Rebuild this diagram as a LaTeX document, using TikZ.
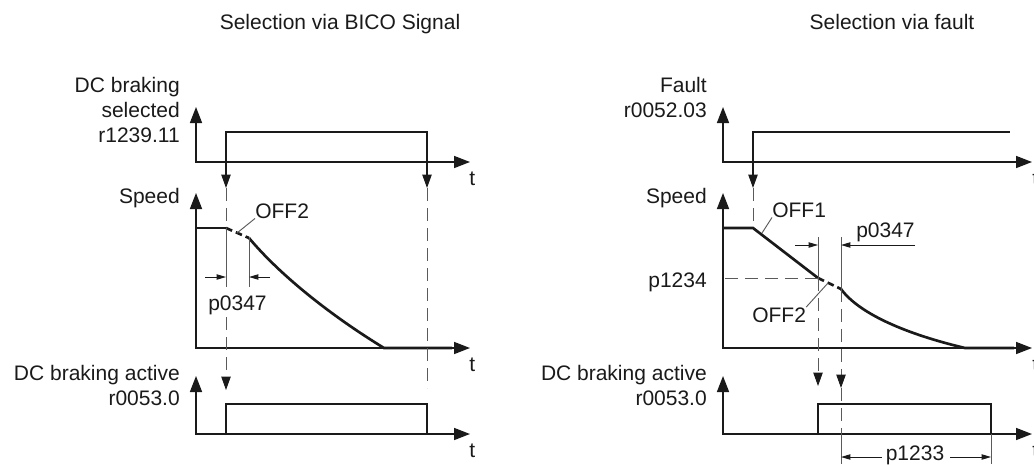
\documentclass[tikz,border=0pt]{standalone}
\usepackage{fontspec}
\setmainfont{Liberation Sans}
\usetikzlibrary{arrows.meta}
\definecolor{trait}{HTML}{1A1A1A}
\definecolor{gristrait}{HTML}{5A5A5A}

\begin{document}
\begin{tikzpicture}[
    x=0.75pt, y=-0.75pt,
    font=\fontsize{15.75}{18.75}\selectfont, text=trait,
    every node/.style={inner sep=0pt},
    axe/.style={draw=trait, line width=1.2pt,
      {Triangle[length=12pt,width=9pt]}-{Triangle[length=12pt,width=9pt]}},
    sig/.style={draw=trait, line width=2pt},
    sigtiret/.style={sig, dash pattern=on 5pt off 3pt},
    fin/.style={draw=gristrait, line width=0.7pt},
    tiret/.style={fin, dash pattern=on 10pt off 5pt},
    evt/.style={draw=trait, line width=0.8pt,
      -{Triangle[length=10pt,width=7pt,color=trait]}},
    cote/.style={draw=trait, line width=0.7pt,
      -{Triangle[length=7pt,width=4pt]}}
  ]
    \useasboundingbox (0,0) rectangle (1034,464);

    % selection via BICO
    \node[anchor=base] (titreg) at (340,29) {Selection via BICO Signal};
    \node[anchor=east, align=right] (selg) at (180,110) {DC braking\\selected\\r1239.11};
    \node[anchor=base east] (vitg) at (180,203) {Speed};
    \node[anchor=east, align=right] (actg) at (180,385) {DC braking active\\r0053.0};
    \draw[axe] (196,107) -- (196,162) -- (470,162);
    \draw[axe] (196,193) -- (196,348) -- (470,348);
    \draw[axe] (196,376) -- (196,434) -- (470,434);
    \node[anchor=base west] (tg1) at (469,185) {t};
    \node[anchor=base west] (tg2) at (469,371) {t};
    \node[anchor=base west] (tg3) at (469,457) {t};
    \draw[sig] (196,162) -- (226,162) -- (226,132) -- (427,132) -- (427,162) -- (452,162);
    \draw[sig] (196,228) -- (226,228);
    \draw[sigtiret] (226,228) -- (249,238);
    \draw[sig] (249,238) .. controls (280,275) and (330,315) .. (384,348) -- (452,348);
    \draw[sig] (196,434) -- (226,434) -- (226,404) -- (427,404) -- (427,434) -- (452,434);
    \draw[evt] (226,162) -- (226,188);
    \draw[evt] (427,162) -- (427,188);
    \draw[tiret] (226,188) -- (226,228);
    \draw[tiret] (427,188) -- (427,388);
    \draw[fin] (226,228) -- (226,287);
    \draw[fin] (249,238) -- (249,287);
    \draw[cote] (205,277) -- (226,277);
    \draw[cote] (270,277) -- (249,277);
    \node[anchor=base west] (p0347g) at (208,310) {p0347};
    \draw[evt, tiret] (226,317) -- (226,390);
    \node[anchor=base west] (off2g) at (255,218) {OFF2};
    \draw[fin] (off2g.south west) -- (237,233);

    % selection via fault
    \node[anchor=base] (titred) at (892,29) {Selection via fault};
    \node[anchor=east, align=right] (defd) at (707,97) {Fault\\r0052.03};
    \node[anchor=base east] (vitd) at (707,203) {Speed};
    \node[anchor=base east] (p1234) at (707,287) {p1234};
    \node[anchor=east, align=right] (actd) at (707,385) {DC braking active\\r0053.0};
    \draw[axe] (723,107) -- (723,162) -- (1032,162);
    \draw[axe] (723,193) -- (723,348) -- (1032,348);
    \draw[axe] (723,376) -- (723,434) -- (1032,434);
    \node[anchor=base west] (td1) at (1032,185) {t};
    \node[anchor=base west] (td2) at (1032,371) {t};
    \node[anchor=base west] (td3) at (1032,457) {t};
    \draw[sig] (723,162) -- (753,162) -- (753,132) -- (1010,132);
    \draw[sig] (723,228) -- (753,228) -- (818,278);
    \draw[sigtiret] (818,278) -- (841,289);
    \draw[sig] (841,289) .. controls (860,315) and (910,335) .. (965,348) -- (1014,348);
    \draw[sig] (723,434) -- (818,434) -- (818,404) -- (991,404) -- (991,434) -- (1014,434);
    \draw[evt] (753,162) -- (753,188);
    \draw[tiret] (753,188) -- (753,228);
    \draw[tiret] (725,278) -- (818,278);
    \draw[fin] (818,237) -- (818,278);
    \draw[fin] (841,237) -- (841,289);
    \draw[cote] (795,245) -- (818,245);
    \draw[cote] (915,245) -- (841,245);
    \node[anchor=base west] (p0347d) at (856,237) {p0347};
    \node[anchor=base west] (off1) at (772,217) {OFF1};
    \draw[fin] (off1.south west) -- (762,233);
    \node[anchor=base west] (off2d) at (752,322) {OFF2};
    \draw[fin] (off2d.north east) -- (828,283);
    \draw[evt, tiret] (818,278) -- (818,386);
    \draw[evt, tiret] (841,289) -- (841,388);
    \draw[tiret] (841,388) -- (841,434);
    \draw[fin] (841,434) -- (841,464);
    \draw[fin] (991,434) -- (991,464);
    \node[anchor=base] (p1233) at (915,460) {p1233};
    \draw[cote] (882,457) -- (841,457);
    \draw[cote] (950,457) -- (991,457);
  \end{tikzpicture}
\end{document}
